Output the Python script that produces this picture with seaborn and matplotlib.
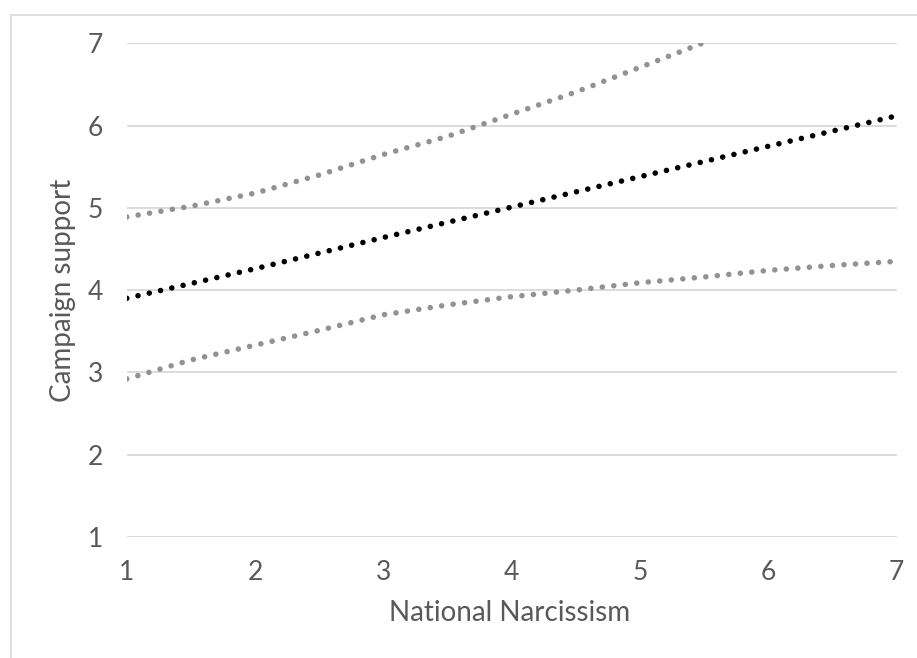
import matplotlib
matplotlib.use("Agg")
import matplotlib.pyplot as plt
import seaborn as sns
import pandas as pd
from matplotlib.patches import Rectangle

# Simple slope of campaign support on national narcissism, with band limits
x_mid = [1, 2, 3, 4, 5, 6, 7]
y_mid = [3.90, 4.26, 4.64, 5.01, 5.38, 5.75, 6.12]

x_upper = [1, 1.5, 2, 2.5, 3, 3.5, 4, 4.5, 5, 5.48]
y_upper = [4.89, 5.02, 5.18, 5.40, 5.65, 5.87, 6.14, 6.41, 6.71, 7.00]

x_lower = [1, 1.5, 2, 2.5, 3, 3.5, 4, 4.5, 5, 5.5, 6, 6.5, 7]
y_lower = [2.92, 3.15, 3.33, 3.51, 3.70, 3.82, 3.92, 4.00, 4.09, 4.16, 4.24, 4.30, 4.35]

x_ticks = [1, 2, 3, 4, 5, 6, 7]
y_ticks = [1, 2, 3, 4, 5, 6, 7]

TEXT = "#595959"
GRID = "#d9d9d9"
GRAY = "#929292"

sns.set_style("white")
plt.rcParams["font.family"] = ["Lato", "DejaVu Sans"]

W, H = 917, 658
fig = plt.figure(figsize=(W / 100, H / 100), dpi=100)
ax = fig.add_axes([0.1382, 0.1843, 0.9779 - 0.1382, 0.9339 - 0.1843])

# chart frame (only its top and left edges fall inside the canvas)
fig.patches.append(Rectangle((11 / W, -0.1), 1.2, 1 - 14.5 / H + 0.1,
                             transform=fig.transFigure, fill=False,
                             edgecolor=GRID, linewidth=1.2, zorder=0))

dot = dict(linestyle=(0, (0.01, 2.07)), dash_capstyle="round", linewidth=4.0)

sns.lineplot(x=x_upper, y=y_upper, ax=ax, color=GRAY, sort=False, **dot)
sns.lineplot(x=x_lower, y=y_lower, ax=ax, color=GRAY, sort=False, **dot)
sns.lineplot(x=x_mid, y=y_mid, ax=ax, color="black", sort=False, **dot)

ax.set_xlim(1, 7)
ax.set_ylim(1, 7)
ax.set_xticks(x_ticks)
ax.set_yticks(y_ticks)
ax.set_xticklabels([str(v) for v in x_ticks])
ax.set_yticklabels([str(v) for v in y_ticks])
ax.grid(axis="y", color=GRID, linewidth=1.3)
ax.grid(axis="x", visible=False)
ax.set_axisbelow(True)
for s in ax.spines.values():
    s.set_visible(False)
ax.tick_params(axis="both", length=0, labelsize=19, labelcolor=TEXT)
ax.tick_params(axis="y", pad=17)
ax.tick_params(axis="x", pad=17)

fig.text(510 / W, 1 - 613 / H, "National Narcissism", fontsize=20,
         color=TEXT, ha="center", va="center")
fig.text(63 / W, 1 - 290 / H, "Campaign support", fontsize=20,
         color=TEXT, ha="center", va="center", rotation=90)

fig.savefig("out.png", dpi=100)
